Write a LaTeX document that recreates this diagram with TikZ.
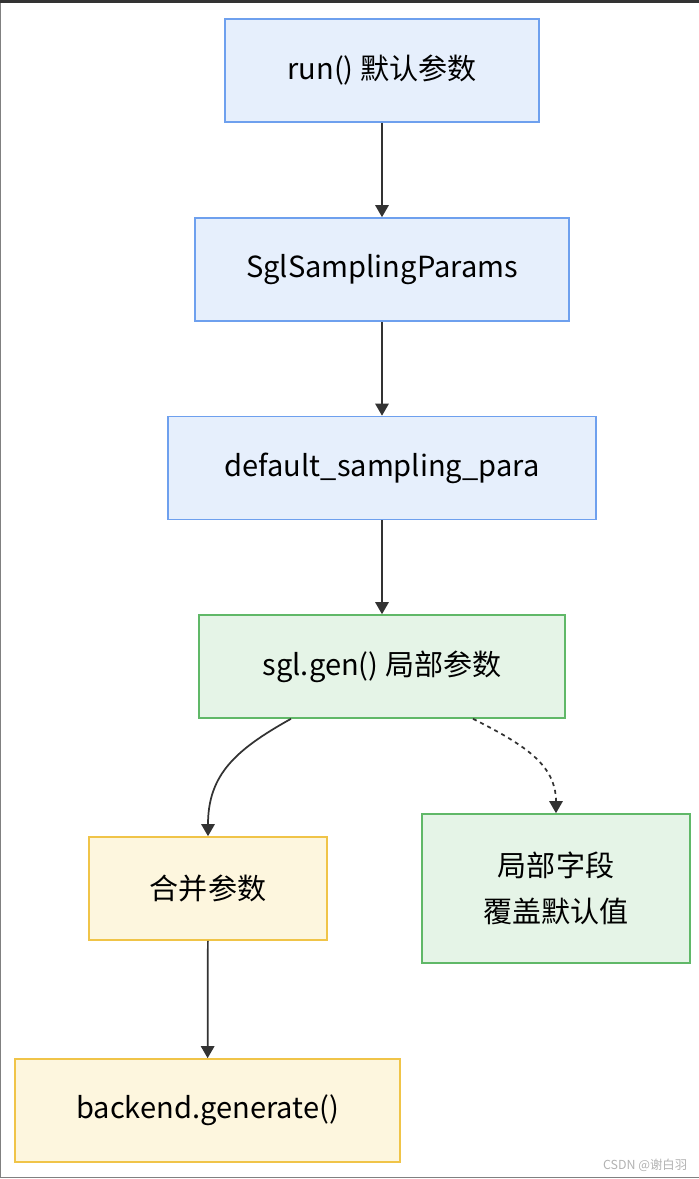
\documentclass[tikz,border=0pt]{standalone}
\usepackage{fontspec}
\setmainfont{Noto Sans CJK SC}
\usepackage{tikz}
\usetikzlibrary{arrows.meta,calc}

\definecolor{bluefill}{RGB}{230,239,252}
\definecolor{blueline}{RGB}{110,160,238}
\definecolor{greenfill}{RGB}{229,244,231}
\definecolor{greenline}{RGB}{96,184,104}
\definecolor{yellowfill}{RGB}{253,246,222}
\definecolor{yellowline}{RGB}{240,196,72}
\definecolor{edgegrey}{RGB}{51,51,51}

\begin{document}
\begin{tikzpicture}[x=0.75pt,y=0.75pt,yscale=-1,xscale=1,
    box/.style={draw,line width=1.2pt,inner sep=0pt,minimum height=77.25pt,align=center,
        font=\fontsize{21.8}{34}\selectfont,text=black},
    bluebox/.style={box,fill=bluefill,draw=blueline},
    greenbox/.style={box,fill=greenfill,draw=greenline},
    yellowbox/.style={box,fill=yellowfill,draw=yellowline},
    link/.style={draw=edgegrey,line width=1.3pt,-{Triangle[length=9pt,width=10pt]}}]

        % frame of the page
        \useasboundingbox (0,0) rectangle (699,1179);
        \fill [edgegrey] (0,0) rectangle (699,3);
        \draw [gray,line width=1pt] (0.5,3) -- (0.5,1177.5) -- (699,1177.5);

        % boxes
        \node [bluebox,minimum width=235.5pt] (run) at (382,70.5) {run() 默认参数};
        \node [bluebox,minimum width=280.5pt] (params) at (382,269.5) {SglSamplingParams};
        \node [bluebox,minimum width=321pt] (default) at (382,468) {default\_sampling\_para};
        \node [greenbox,minimum width=274.5pt] (gen) at (382,666.5) {sgl.gen() 局部参数};
        \node [yellowbox,minimum width=178.5pt] (merge) at (208,888.5) {合并参数};
        \node [greenbox,minimum width=201pt,minimum height=111.75pt] (local) at (556,888.5) {局部字段\\覆盖默认值};
        \node [yellowbox,minimum width=288.75pt] (backend) at (207.5,1110.5) {backend.generate()};

        % connectors
        \draw [link] (run) -- (params);
        \draw [link] (params) -- (default);
        \draw [link] (default) -- (gen);
        \draw [link] ($(gen.south)+(-91,0)$) .. controls (235,750) and (208,775) .. (merge.north);
        \draw [link,dashed,dash pattern=on 3pt off 3pt] ($(gen.south)+(91,0)$) .. controls (525,745) and (556,765) .. (local.north);
        \draw [link] (merge) -- (backend);

        % watermark
        \node [text=gray!60,font=\fontsize{9.3}{10}\selectfont,anchor=east] (mark) at (692,1165) {CSDN @谢白羽};

\end{tikzpicture}
\end{document}
